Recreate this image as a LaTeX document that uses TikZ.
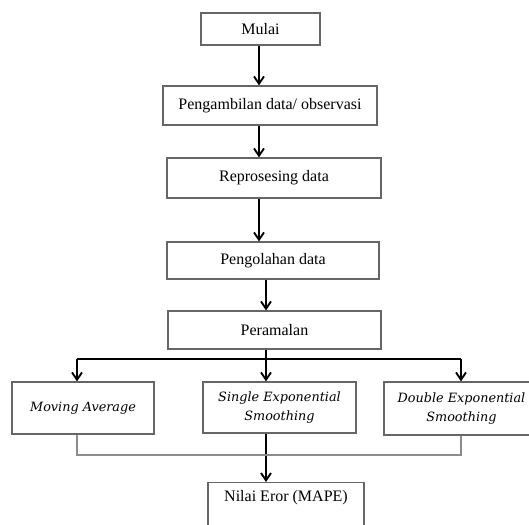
\documentclass[tikz,border=0pt]{standalone}
\usepackage{fontspec}
\setmainfont{Liberation Serif}
\newfontfamily\miringfont{DejaVu Serif}
\usetikzlibrary{arrows.meta, positioning}

\begin{document}
\begin{tikzpicture}[x=0.75pt,y=-0.75pt,>={Straight Barb[length=5.5pt,width=7.5pt]},
    kotak/.style={draw=black!60, line width=0.9pt, inner sep=0pt, align=center, font=\fontsize{12}{14}\selectfont},
    miring/.style={kotak, font=\miringfont\itshape\fontsize{9.6}{14.25}\selectfont},
    panah/.style={->, line width=1.4pt},
    garis/.style={draw=black!45, line width=1pt}]
  \clip (0,0) rectangle (529,525);
                % Déclaration des boîtes
                \node[kotak, minimum width=89.25pt, minimum height=24pt] (mulai) at (260.5,29) {Mulai};
                \node[kotak, minimum width=160.5pt, minimum height=29.25pt] (ambil) at (270,105.5) {Pengambilan data/ observasi};
                \node[kotak, minimum width=160.5pt, minimum height=30pt] (reproses) at (274,178) {Reprosesing data};
                \node[kotak, minimum width=159pt, minimum height=27.75pt] (olah) at (273,260.5) {Pengolahan data};
                \node[kotak, minimum width=159.75pt, minimum height=28.5pt] (ramal) at (274.5,330) {Peramalan};
                \node[miring, minimum width=106.5pt, minimum height=39pt] (ma) at (83,408) {Moving Average};
                \node[miring, minimum width=114.75pt, minimum height=38.25pt] (ses) at (279.5,407.5) {Single Exponential\\Smoothing};
                \node[miring, minimum width=116.25pt, minimum height=39.75pt] (des) at (461.5,408.5) {Double Exponential\\Smoothing};
                \node[kotak, anchor=north, minimum width=117pt, inner ysep=6pt, text depth=24pt] (nilai) at (286,482) {Nilai Eror (MAPE)};

                % Coordonnées des lignes verticales et horizontales
                \coordinate (atas) at (259,0);
                \coordinate (bawah) at (266,0);
                \coordinate (kiri) at (77,0);
                \coordinate (kanan) at (461,0);
                \coordinate (cabang) at (0,359);
                \coordinate (gabung) at (0,455);

                % Ajout des flèches
                \draw[panah] (mulai.south -| atas) -- (ambil.north -| atas);
                \draw[panah] (ambil.south -| atas) -- (reproses.north -| atas);
                \draw[panah] (reproses.south -| atas) -- (olah.north -| atas);
                \draw[panah] (olah.south -| bawah) -- (ramal.north -| bawah);
                \draw[line width=1.4pt] (ramal.south -| bawah) -- (cabang -| bawah);
                \draw[line width=1.4pt] (cabang -| kiri) -- (cabang -| kanan);
                \draw[panah] (cabang -| kiri) -- (ma.north -| kiri);
                \draw[panah] (cabang -| bawah) -- (ses.north -| bawah);
                \draw[panah] (cabang -| kanan) -- (des.north -| kanan);
                \draw[panah] (ses.south -| bawah) -- (nilai.north -| bawah);
                \draw[garis] (ma.south -| kiri) -- (gabung -| kiri) -- (gabung -| kanan) -- (des.south -| kanan);
\end{tikzpicture}
\end{document}
